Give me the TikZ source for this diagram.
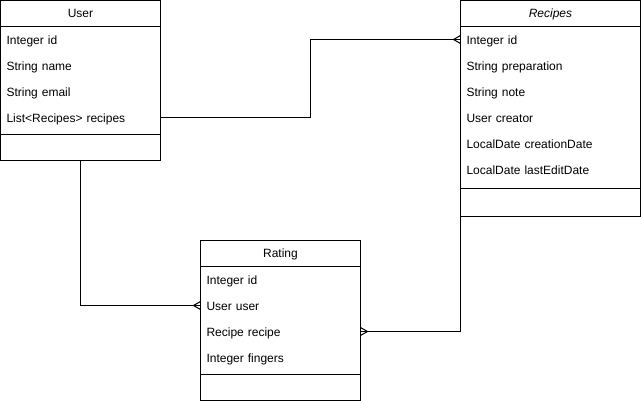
\documentclass[tikz,border=0pt]{standalone}
\usepackage{fontspec}
\setmainfont{Liberation Sans}
\usetikzlibrary{positioning,fit}
\tikzstyle{title} = [rectangle, draw=black, line width=1pt, minimum width=160pt, minimum height=26pt, inner sep=0pt, outer sep=0pt, text height=9.6pt, text depth=1pt, text centered]
\tikzstyle{field} = [rectangle, minimum height=26pt, text width=148pt, inner xsep=6pt, inner ysep=0pt, outer sep=0pt, text height=11.5pt, text depth=1pt, align=left]
\tikzstyle{wfield} = [field, text width=168pt]
\tikzstyle{blank} = [rectangle, draw=black, line width=1pt, minimum width=160pt, minimum height=26pt, inner sep=0pt, outer sep=0pt]
\tikzstyle{frame} = [rectangle, draw=black, line width=1pt, inner sep=0pt]
\tikzstyle{line} = [line width=1pt]
\tikzset{crow/.pic={\draw [line] (0,4pt) -- (-7pt,0) -- (0,-4pt);}}

\begin{document}
\begin{tikzpicture}[font=\fontsize{12pt}{14pt}\selectfont]
\useasboundingbox (-0.5pt,0.5pt) rectangle (640.5pt,-400.5pt);
% nodes
\node (user) [title] at (80pt,-13pt) {User};
\node (uid) [field, below=0pt of user] {Integer id};
\node (uname) [field, below=0pt of uid] {String name};
\node (uemail) [field, below=0pt of uname] {String email};
\node (urecipes) [field, below=0pt of uemail] {List<Recipes> recipes};
\node (ublank) [blank, below=4pt of urecipes] {};
\node (userbox) [frame, fit=(user)(ublank)] {};

\node (recipe) [title, minimum width=180pt] at (550pt,-13pt) {\itshape Recipes};
\node (rid) [wfield, below=0pt of recipe] {Integer id};
\node (rprep) [wfield, below=0pt of rid] {String preparation};
\node (rnote) [wfield, below=0pt of rprep] {String note};
\node (rcreator) [wfield, below=0pt of rnote] {User creator};
\node (rcreation) [wfield, below=0pt of rcreator] {LocalDate creationDate};
\node (rlastedit) [wfield, below=0pt of rcreation] {LocalDate lastEditDate};
\node (rblank) [blank, minimum width=180pt, minimum height=28pt, below=6pt of rlastedit] {};
\node (recipebox) [frame, fit=(recipe)(rblank)] {};

\node (rating) [title] at (280pt,-253pt) {Rating};
\node (tid) [field, below=0pt of rating] {Integer id};
\node (tuser) [field, below=0pt of tid] {User user};
\node (trecipe) [field, below=0pt of tuser] {Recipe recipe};
\node (tfingers) [field, below=0pt of trecipe] {Integer fingers};
\node (tblank) [blank, below=4pt of tfingers] {};
\node (ratingbox) [frame, fit=(rating)(tblank)] {};

%edges
\draw [line] (urecipes.east) -- ++(150pt,0) |- (rid.west);
\draw [line] (ublank.south) |- (tuser.west);
\draw [line] (rblank.north west) |- (trecipe.east);

% crow's feet
\pic at (rid.west) {crow};
\pic at (tuser.west) {crow};
\pic [rotate=180] at (trecipe.east) {crow};
\end{tikzpicture}
\end{document}
